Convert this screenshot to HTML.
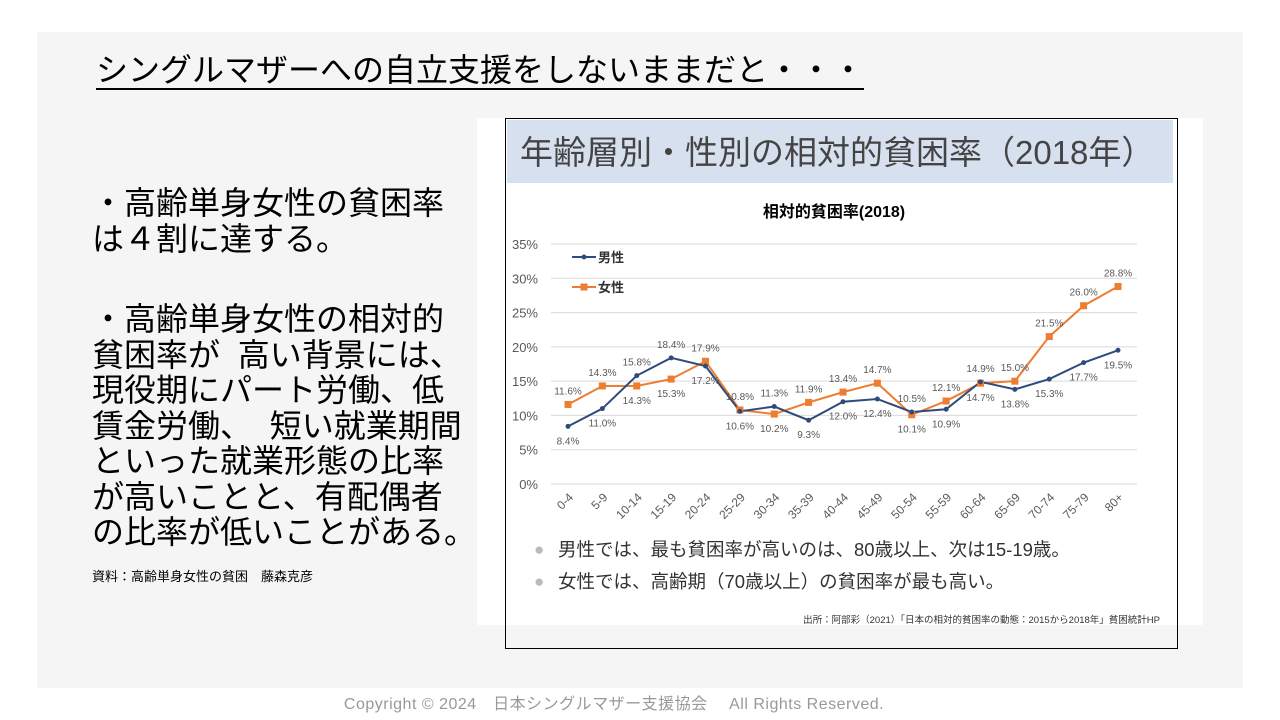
<!DOCTYPE html>
<html><head><meta charset="utf-8"><style>
body{margin:0;width:1280px;height:720px;background:#fff;position:relative;overflow:hidden;font-family:"Liberation Sans","Noto Sans CJK JP",sans-serif;}
.panel{position:absolute;left:37px;top:32px;width:1206px;height:656px;background:#f5f5f5;}
.h{position:absolute;left:96px;top:52px;font-size:32px;color:#000;border-bottom:2px solid #000;line-height:36px;white-space:nowrap;}
.t{position:absolute;left:92px;font-size:32px;line-height:35.5px;color:#000;white-space:nowrap;}
.src{position:absolute;left:92px;top:566px;font-size:13px;color:#000;}
.copy{position:absolute;left:0;width:1228px;text-align:center;top:690px;font-size:16px;color:#999;letter-spacing:0.5px;}
</style></head><body>
<div class="panel"></div>
<div class="h">シングルマザーへの自立支援をしないままだと・・・</div>
<div class="t" style="top:186px">・高齢単身女性の貧困率<br>は４割に達する。</div>
<div class="t" style="top:302px">・高齢単身女性の相対的<br>貧困率が&nbsp; 高い背景には、<br>現役期にパート労働、低<br>賃金労働、&nbsp; 短い就業期間<br>といった就業形態の比率<br>が高いことと、有配偶者<br>の比率が低いことがある。</div>
<div class="src">資料：高齢単身女性の貧困　藤森克彦</div>
<svg style="position:absolute;left:0;top:0" width="1280" height="720" id="s">
<rect x="477" y="118" width="726" height="507" fill="#fff"/>
<rect x="505.5" y="118.5" width="672" height="530" fill="none" stroke="#000" stroke-width="1"/>
<rect x="507" y="120" width="666" height="63" fill="#d6e0ef"/>
<text x="520" y="164" font-size="33" fill="#444" font-family="Liberation Sans,Noto Sans CJK JP,sans-serif">年齢層別・性別の相対的貧困率（2018年）</text>
<text x="834" y="217" font-size="16" font-weight="bold" text-anchor="middle" fill="#000" font-family="Liberation Sans,Noto Sans CJK JP,sans-serif">相対的貧困率(2018)</text>
<g id="g"></g>
<text x="534" y="555" font-size="17" fill="#bbb">●</text>
<text x="558" y="556" font-size="18.5" fill="#333" font-family="Liberation Sans,Noto Sans CJK JP,sans-serif">男性では、最も貧困率が高いのは、80歳以上、次は15-19歳。</text>
<text x="534" y="587" font-size="17" fill="#bbb">●</text>
<text x="558" y="588" font-size="18.5" fill="#333" font-family="Liberation Sans,Noto Sans CJK JP,sans-serif">女性では、高齢期（70歳以上）の貧困率が最も高い。</text>
<text x="1160" y="623" font-size="9.5" text-anchor="end" fill="#333" font-family="Liberation Sans,Noto Sans CJK JP,sans-serif">出所：阿部彩（2021）「日本の相対的貧困率の動態：2015から2018年」貧困統計HP</text>
</svg>
<div class="copy">Copyright © 2024　日本シングルマザー支援協会　 All Rights Reserved.</div>
<script>
var g=document.getElementById('g'),h='';
function Y(v){return 484-6.857*v}
function X(i){return 568+34.375*i}
for(var k=0;k<=7;k++){var y=Y(k*5);h+='<line x1="551" x2="1137" y1="'+y+'" y2="'+y+'" stroke="#d9d9d9"/>';h+='<text x="538" y="'+(y+5)+'" font-size="13" text-anchor="end" fill="#595959">'+(k*5)+'%</text>';}
var cats=['0-4','5-9','10-14','15-19','20-24','25-29','30-34','35-39','40-44','45-49','50-54','55-59','60-64','65-69','70-74','75-79','80+'];
cats.forEach(function(c,i){h+='<text transform="translate('+(X(i)+6)+',498) rotate(-45)" font-size="12" text-anchor="end" fill="#595959">'+c+'</text>';});
var m=[8.4,11.0,15.8,18.4,17.2,10.6,11.3,9.3,12.0,12.4,10.5,10.9,14.9,13.8,15.3,17.7,19.5];
var w=[11.6,14.3,14.3,15.3,17.9,10.8,10.2,11.9,13.4,14.7,10.1,12.1,14.7,15.0,21.5,26.0,28.8];
var md=[1,1,0,0,1,1,0,1,1,1,0,1,0,1,1,1,1];
var wd=[0,0,1,1,0,0,1,0,0,0,1,0,1,0,0,0,0];
function line(a,col){return '<polyline fill="none" stroke="'+col+'" stroke-width="2" points="'+a.map(function(v,i){return X(i)+','+Y(v)}).join(' ')+'"/>';}
h+=line(w,'#ed7d31');h+=line(m,'#2f4b7c');
w.forEach(function(v,i){h+='<rect x="'+(X(i)-3.5)+'" y="'+(Y(v)-3.5)+'" width="7" height="7" fill="#ed7d31"/>';});
m.forEach(function(v,i){h+='<circle cx="'+X(i)+'" cy="'+Y(v)+'" r="2.5" fill="#2f4b7c"/>';});
function lab(a,d){a.forEach(function(v,i){var y=Y(v)+(d[i]?18:-10);h+='<text x="'+X(i)+'" y="'+y+'" font-size="10" text-anchor="middle" fill="#595959">'+v.toFixed(1)+'%</text>';});}
lab(m,md);lab(w,wd);
h+='<line x1="572" x2="596" y1="257" y2="257" stroke="#2f4b7c" stroke-width="2"/><circle cx="584" cy="257" r="2.5" fill="#2f4b7c"/><text x="598" y="262" font-size="13" font-weight="bold" fill="#333">男性</text>';
h+='<line x1="572" x2="596" y1="287" y2="287" stroke="#ed7d31" stroke-width="2"/><rect x="580.5" y="283.5" width="7" height="7" fill="#ed7d31"/><text x="598" y="292" font-size="13" font-weight="bold" fill="#333">女性</text>';
g.innerHTML=h;
</script>
</body></html>
